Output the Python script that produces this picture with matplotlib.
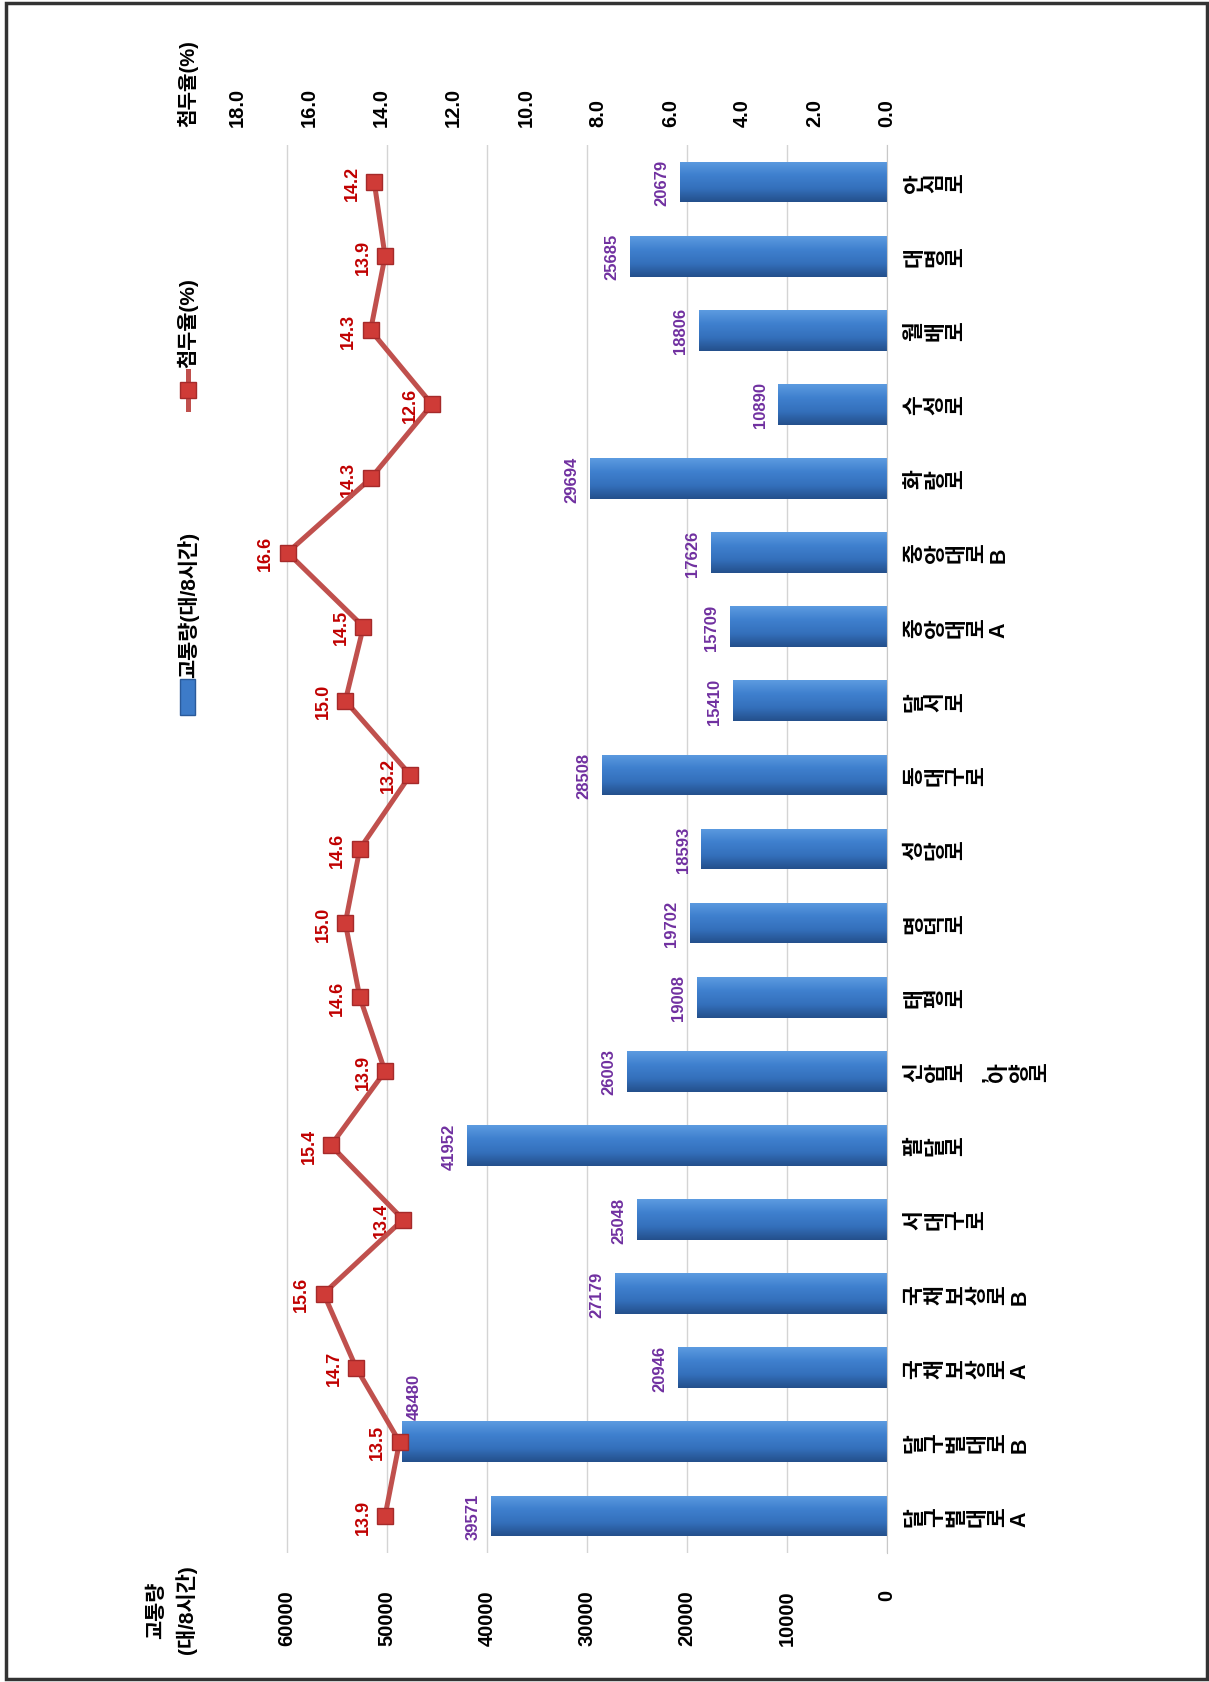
import matplotlib
matplotlib.use("Agg")
import matplotlib.pyplot as plt
import numpy as np
from matplotlib.patches import Rectangle
from matplotlib.lines import Line2D
from matplotlib.colors import LinearSegmentedColormap

plt.rcParams['font.family'] = ['Liberation Sans', 'Noto Sans CJK KR', 'DejaVu Sans']

# 도로별 교통량(대/8시간)과 첨두율(%) - 아래에서 위 순서
roads = ['달구벌대로A', '달구벌대로B', '국채보상로A', '국채보상로B', '서대구로', '팔달로',
         '신암로,아양로', '태평로', '명덕로', '성당로', '동대구로', '달서로',
         '중앙대로A', '중앙대로B', '화랑로', '수성로', '월배로', '대명로', '안심로']
traffic = [39571, 48480, 20946, 27179, 25048, 41952, 26003, 19008, 19702, 18593,
           28508, 15410, 15709, 17626, 29694, 10890, 18806, 25685, 20679]
peak = [13.9, 13.5, 14.7, 15.6, 13.4, 15.4, 13.9, 14.6, 15.0, 14.6, 13.2, 15.0,
        14.5, 16.6, 14.3, 12.6, 14.3, 13.9, 14.2]
traffic_ticks = [0, 10000, 20000, 30000, 40000, 50000, 60000]
peak_ticks = [0, 2, 4, 6, 8, 10, 12, 14, 16, 18]

W, H = 1209, 1683
fig = plt.figure(figsize=(W / 100, H / 100), dpi=100)


def fx(px):
    return px / W


def fy(py):
    return 1 - py / H


# 차트를 90도 돌려 놓은 형태 (값 축이 오른쪽에서 왼쪽으로)
ax = fig.add_axes([fx(237), fy(1554), fx(887) - fx(237), fy(146) - fy(1554)])
y = np.arange(len(roads))
bars = ax.barh(y, traffic, height=0.55, color='#3B78C4', linewidth=0, zorder=2)

# 막대 입체감 (그라데이션)
cmap = LinearSegmentedColormap.from_list('bev', ['#24508C', '#3470BC', '#3F80CE', '#5C9BE0'])
grad = np.linspace(0, 1, 64).reshape(-1, 1)
for b in bars:
    x0, y0 = b.get_x(), b.get_y()
    im = ax.imshow(grad, cmap=cmap, extent=[x0, x0 + b.get_width(), y0, y0 + b.get_height()],
                   aspect='auto', origin='lower', zorder=2.1)
    im.set_clip_path(b)

ax.set_xlim(65000, 0)
ax.set_ylim(-0.5, len(roads) - 0.5)
ax.set_xticks(traffic_ticks)
ax.xaxis.grid(True, color='#D4D4D4', lw=1)
ax.set_axisbelow(True)
for s in ['left', 'top', 'bottom']:
    ax.spines[s].set_visible(False)
ax.spines['right'].set_color('#C8C8C8')
ax.tick_params(axis='x', length=0, pad=26, labelsize=14.5, labelrotation=90)
for lbl in ax.get_xticklabels():
    lbl.set_fontweight('bold')

# 도로명: 세로쓰기 라벨을 돌린 모양
ax.set_yticks([])
lab_tr = ax.get_yaxis_transform()
for r, yi in zip(roads, y):
    ax.text(1.027, yi, '\n'.join(r), transform=lab_tr, rotation=90, ha='left', va='center',
            fontsize=15.5, fontweight='bold', linespacing=1.0, clip_on=False)

for v, yi in zip(traffic, y):
    off = (12, 46) if v == 48480 else (-18, 0)
    ax.annotate(str(v), (v, yi), xytext=off, textcoords='offset pixels', rotation=90,
                ha='center', va='center', color='#7030A0', fontsize=12, fontweight='bold', zorder=6)

ax2 = ax.twiny()
ax2.set_xlim(18, 0)
ax2.plot(peak, y, color='#C0504D', lw=3.6, marker='s', ms=12, mfc='#CF3B37', mec='#A52A2A', zorder=5)
ax2.set_xticks(peak_ticks, [f'{t:.1f}' for t in peak_ticks])
ax2.tick_params(axis='x', length=0, pad=14, labelsize=14.5, labelrotation=90)
for lbl in ax2.get_xticklabels():
    lbl.set_fontweight('bold')
for s in ax2.spines.values():
    s.set_visible(False)
for v, yi in zip(peak, y):
    ax2.annotate(f'{v:.1f}', (v, yi), xytext=(-22, 0), textcoords='offset pixels', rotation=90,
                 ha='center', va='center', color='#C00000', fontsize=13, fontweight='bold')

# 범례
fig.patches.append(Rectangle((fx(180), fy(716)), 15 / W, 36 / H, transform=fig.transFigure,
                             fc='#3D7BC8', ec='#2A5A9A'))
fig.text(fx(188), fy(678), '교통량(대/8시간)', rotation=90, ha='center', va='bottom',
         fontsize=15, fontweight='bold')
fig.add_artist(Line2D([fx(188), fx(188)], [fy(410), fy(372)], transform=fig.transFigure,
                      color='#C0504D', lw=3.6))
fig.add_artist(Line2D([fx(188)], [fy(391)], transform=fig.transFigure, marker='s', ms=11,
                      mfc='#CF3B37', mec='#A52A2A'))
fig.text(fx(188), fy(368), '첨두율(%)', rotation=90, ha='center', va='bottom',
         fontsize=15, fontweight='bold')

# 축 제목
fig.text(fx(172), fy(1610), '교통량\n(대/8시간)', rotation=90, ha='center', va='center',
         fontsize=15, fontweight='bold', multialignment='center', linespacing=1.5)
fig.text(fx(188), fy(84), '첨두율(%)', rotation=90, ha='center', va='center',
         fontsize=14.5, fontweight='bold')

# 테두리
fig.patches.append(Rectangle((fx(6), fy(1680)), 1201 / W, 1676 / H, transform=fig.transFigure,
                             fill=False, lw=2.5, ec='#333333'))

fig.savefig('out.png', dpi=100)
